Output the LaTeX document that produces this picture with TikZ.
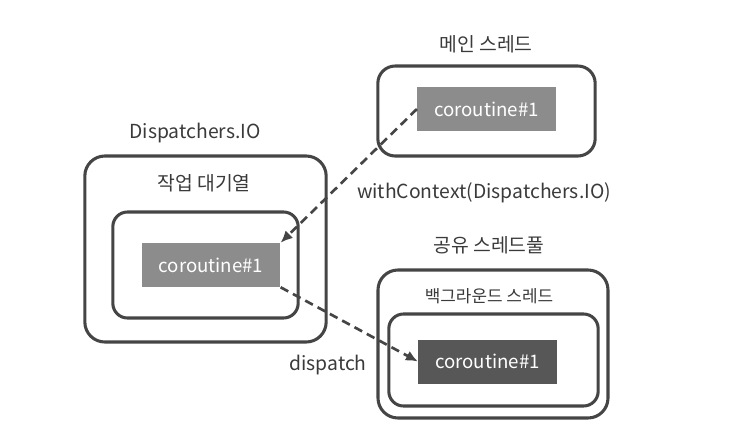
\documentclass[tikz,border=0pt]{standalone}
\usepackage{fontspec}
\setmainfont{Noto Sans CJK KR}
\usetikzlibrary{positioning,arrows.meta}

\definecolor{framegray}{HTML}{454545}
\definecolor{txtgray}{HTML}{3A3A3A}
\definecolor{corlight}{HTML}{8C8C8C}
\definecolor{cordark}{HTML}{575757}

\tikzset{
  frame/.style={draw=framegray, line width=2.3pt, rounded corners=#1, inner sep=0pt},
  frame/.default=13pt,
  corbox/.style={fill=#1, text=white, minimum width=104pt, minimum height=33pt, inner sep=0pt, font=\fontsize{14}{16}\selectfont},
  lbl/.style={text=txtgray, font=\fontsize{14.5}{17}\selectfont},
  flow/.style={draw=framegray, line width=2pt, dash pattern=on 6.5pt off 4pt, -{Latex[length=9pt,width=8pt]}}
}

\begin{document}
\begin{tikzpicture}[x=0.75pt,y=-0.75pt]
  \useasboundingbox (0,0) rectangle (756,446);

  % main thread
  \node[lbl] (mainlbl) at (486,44) {메인 스레드};
  \node[frame, minimum width=163pt, minimum height=67.5pt] (mainframe) at (486.5,111) {};
  \node[corbox=corlight] (maincor) at (486.5,109) {coroutine\#1};

  % Dispatchers.IO
  \node[lbl] (iolbl) at (195,133) {Dispatchers.IO};
  \node[frame=15pt, minimum width=181pt, minimum height=139.5pt] (ioframe) at (205.5,249) {};
  \node[lbl] (queuelbl) at (204,183) {작업 대기열};
  \node[frame=11pt, minimum width=139pt, minimum height=79.5pt] (queueframe) at (205.5,265) {};
  \node[corbox=corlight] (iocor) at (211,265) {coroutine\#1};

  % shared pool
  \node[lbl] (poollbl) at (489,245) {공유 스레드풀};
  \node[frame=15pt, minimum width=172.5pt, minimum height=111pt] (poolframe) at (493,344) {};
  \node[lbl, font=\fontsize{12.7}{15}\selectfont] (bglbl) at (489,296) {백그라운드 스레드};
  \node[frame=11pt, minimum width=157pt, minimum height=69pt] (bgframe) at (493.5,360) {};
  \node[corbox=cordark] (bgcor) at (487.5,361.5) {coroutine\#1};

  % flows
  \draw[flow] (maincor.west) -- (iocor.north east);
  \draw[flow] (iocor.south east) -- (bgcor.west);
  \node[lbl] (ctxlbl) at (484,193) {withContext(Dispatchers.IO)};
  \node[lbl] (displbl) at (328,365) {dispatch};
\end{tikzpicture}
\end{document}
